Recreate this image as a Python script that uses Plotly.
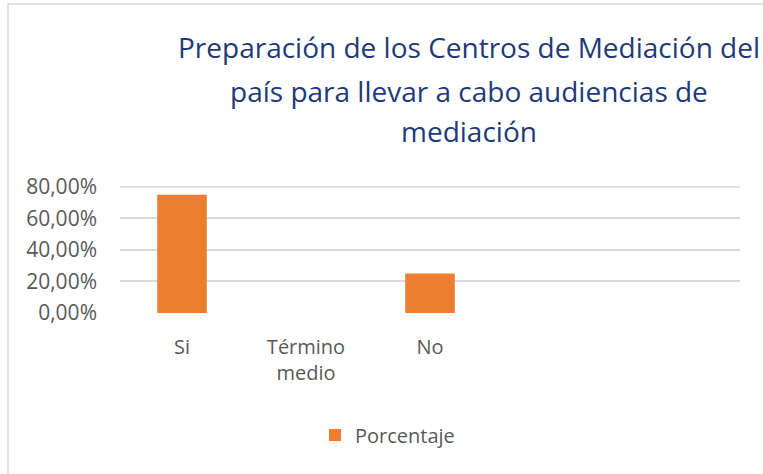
import plotly.graph_objects as go

categories = ["Si", "Término<br>medio", "No"]
values = [0.75, 0.0, 0.25]
series_name = "Porcentaje"
title_lines = ["Preparación de los Centros de Mediación del",
               "país para llevar a cabo audiencias de",
               "mediación"]
y_ticks = [0, 0.2, 0.4, 0.6, 0.8]

W, H = 763, 474
L, R, T, B = 120, 23, 186, 161
pw, ph = W - L - R, H - T - B

def px_x(x):
    return (x - L) / pw

def px_y(y):
    return (H - B - y) / ph

font = "Open Sans"
grey = "#595959"
orange = "#ED7D31"
navy = "#1F3A78"
gridc = "#D9D9D9"

xs = list(range(len(categories)))
fig = go.Figure()
fig.add_trace(go.Bar(x=xs, y=values, name=series_name, marker_color=orange,
                     marker_line_width=0, showlegend=True))

fig.update_layout(
    width=W, height=H,
    margin=dict(l=L, r=R, t=T, b=B),
    paper_bgcolor="white", plot_bgcolor="white",
    separators=",.",
    bargap=0.6,
    font=dict(family=font, color=grey, size=20),
    showlegend=True,
    legend=dict(x=px_x(315), y=px_y(435), xanchor="left", yanchor="middle",
                orientation="h", font=dict(size=20, color=grey),
                itemwidth=30, bgcolor="rgba(0,0,0,0)"),
    xaxis=dict(range=[-0.5, 4.5], tickvals=xs, ticktext=categories,
               showgrid=False, zeroline=False, showline=False,
               ticks="", ticklabelstandoff=20, fixedrange=True,
               tickfont=dict(size=20, color=grey)),
    yaxis=dict(range=[0, 0.806], tickvals=y_ticks, tickformat=".2%",
               showgrid=True, gridcolor=gridc, gridwidth=1.5,
               zeroline=False, showline=False, ticks="", fixedrange=True,
               ticklabelstandoff=22, tickfont=dict(size=21, color=grey)),
)

# make sure the top gridline is drawn
fig.add_shape(type="line", xref="paper", yref="y", x0=0, x1=1,
              y0=max(y_ticks), y1=max(y_ticks),
              line=dict(color=gridc, width=1.5), layer="below")

title_y = [47, 91, 131]
for t, yy in zip(title_lines, title_y):
    fig.add_annotation(text=t, xref="paper", yref="paper",
                       x=px_x(469), y=px_y(yy), xanchor="center", yanchor="middle",
                       showarrow=False, font=dict(family=font, size=28, color=navy))

fig.add_shape(type="rect", xref="paper", yref="paper",
              x0=px_x(8), x1=px_x(790), y0=px_y(4), y1=px_y(500),
              line=dict(color=gridc, width=1.5), layer="below")

fig.write_html("out.html", config={"displayModeBar": False},
               post_script="document.body.style.margin='0';")
